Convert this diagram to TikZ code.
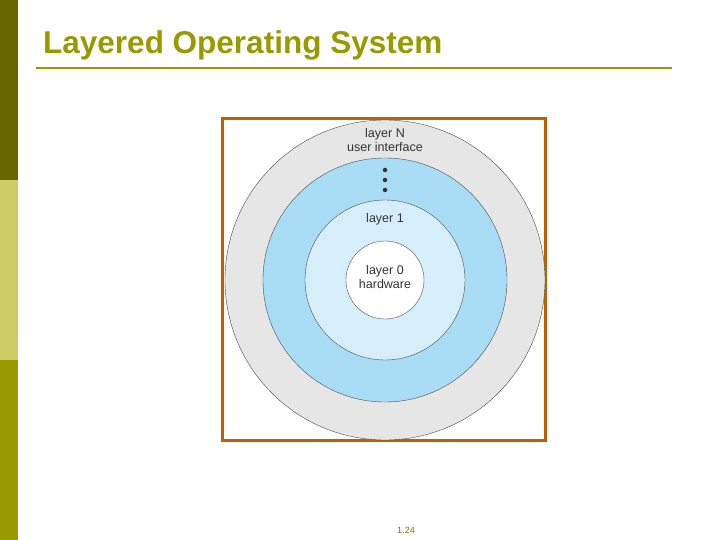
\documentclass[tikz,border=0pt]{standalone}
\usepackage{fontspec}
\setmainfont{Liberation Sans}
\definecolor{bartop}{HTML}{666600}
\definecolor{barmid}{HTML}{CCCC66}
\definecolor{barbot}{HTML}{999900}
\definecolor{ringblue}{HTML}{A9DDF6}
\definecolor{ringlight}{HTML}{D6EEFA}
\definecolor{ringgray}{HTML}{E6E6E6}
\begin{document}
\begin{tikzpicture}[x=1pt,y=-1pt,
  ring/.style={circle,draw=black!70,line width=0.4pt,inner sep=0pt},
  lbl/.style={font=\fontsize{12.5}{14.5}\selectfont,text=black!80,align=center,inner sep=0pt},
  dotm/.style={circle,fill=black!80,inner sep=0pt,minimum size=4.5pt}]
\useasboundingbox (0,0) rectangle (720,540);
\fill[white] (0,0) rectangle (720,540);
\fill[bartop] (0,0) rectangle (18,180);
\fill[barmid] (0,180) rectangle (18,360);
\fill[barbot] (0,360) rectangle (18,540);
\node[anchor=west,text=barbot,font=\bfseries\fontsize{31.5}{35}\selectfont,inner sep=0pt] (title) at (43,45) {Layered Operating System};
\coordinate (l1) at (36,68); \coordinate (l2) at (672,68);
\draw[barbot,line width=1.5pt] (l1) -- (l2);
\node[draw=orange!75!black,line width=2.5pt,minimum width=323pt,minimum height=322pt,inner sep=0pt] (box) at (384,279.5) {};
\node[ring,fill=ringgray,minimum size=320pt] (c4) at (385,280) {};
\node[ring,fill=ringblue,minimum size=244pt] (c3) at (385,280) {};
\node[ring,fill=ringlight,minimum size=160pt] (c2) at (385,280) {};
\node[ring,fill=white,minimum size=78pt] (c1) at (385,280) {};
\node[lbl] (tN) at (385,140) {layer N\\user interface};
\node[dotm] (d1) at (385,170) {};
\node[dotm] (d2) at (385,180) {};
\node[dotm] (d3) at (385,190) {};
\node[lbl] (t1) at (385,219) {layer 1};
\node[lbl] (t0) at (385,277) {layer 0\\hardware};
\node[font=\fontsize{9}{10}\selectfont,text=barbot!80!black] (pg) at (406,530) {1.24};
\end{tikzpicture}
\end{document}
